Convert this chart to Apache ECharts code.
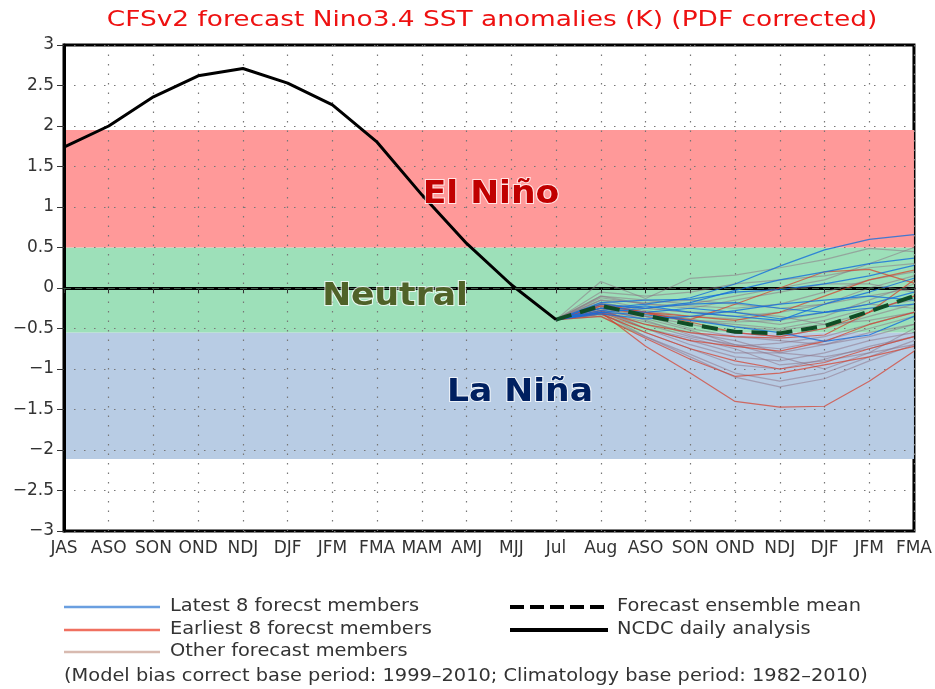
<!DOCTYPE html>
<html>
<head>
<meta charset="utf-8">
<script src="https://cdn.jsdelivr.net/npm/echarts@6/dist/echarts.min.js"></script>
<style>html,body{margin:0;padding:0;background:#fff}#c{width:935px;height:689px}</style>
</head>
<body>
<div id="c"></div>
<script>
const categories = ['JAS','ASO','SON','OND','NDJ','DJF','JFM','FMA','MAM','AMJ','MJJ','Jul','Aug','ASO','SON','OND','NDJ','DJF','JFM','FMA'];
const yTicks = {min: -3, max: 3, interval: 0.5};

// NCDC daily analysis (JAS .. Jul)
const ncdc = [1.74, 2.0, 2.36, 2.62, 2.71, 2.53, 2.26, 1.8, 1.15, 0.55, 0.04, -0.39];

// Forecast (Jul .. FMA)
const ensembleMean = [-0.39, -0.22, -0.34, -0.45, -0.54, -0.56, -0.47, -0.29, -0.1];

const latestMembers = [
  [-0.39, -0.25, -0.2, -0.12, 0.05, 0.27, 0.47, 0.6, 0.66],
  [-0.39, -0.3, -0.25, -0.18, -0.03, 0.1, 0.2, 0.3, 0.37],
  [-0.39, -0.18, -0.15, -0.14, -0.05, -0.02, 0.05, 0.15, 0.28],
  [-0.39, -0.3, -0.33, -0.4, -0.48, -0.55, -0.66, -0.58, -0.35],
  [-0.39, -0.25, -0.3, -0.25, -0.3, -0.38, -0.3, -0.2, -0.05],
  [-0.39, -0.28, -0.22, -0.3, -0.35, -0.4, -0.2, -0.05, 0.12],
  [-0.39, -0.32, -0.38, -0.35, -0.28, -0.2, -0.15, -0.1, -0.15],
  [-0.39, -0.2, -0.25, -0.2, -0.18, -0.25, -0.3, -0.25, -0.2]
];
const earliestMembers = [
  [-0.39, -0.3, -0.72, -1.05, -1.4, -1.47, -1.46, -1.15, -0.78],
  [-0.39, -0.35, -0.62, -0.88, -1.09, -1.05, -0.95, -0.85, -0.72],
  [-0.39, -0.3, -0.5, -0.65, -0.72, -0.78, -0.66, -0.45, -0.3],
  [-0.39, -0.25, -0.32, -0.39, -0.2, 0.0, 0.2, 0.23, 0.06],
  [-0.39, -0.2, -0.3, -0.35, -0.4, -0.3, -0.1, 0.1, 0.22],
  [-0.39, -0.28, -0.45, -0.55, -0.6, -0.62, -0.58, -0.3, 0.1],
  [-0.39, -0.32, -0.55, -0.75, -0.9, -1.0, -0.92, -0.75, -0.6],
  [-0.39, -0.22, -0.3, -0.42, -0.55, -0.6, -0.5, -0.3, -0.1]
];
const otherMembers = [
  [-0.39, 0.08, -0.13, 0.12, 0.16, 0.25, 0.35, 0.49, 0.45],
  [-0.39, -0.05, -0.1, -0.05, 0.05, 0.1, 0.15, 0.25, 0.3],
  [-0.39, -0.1, -0.15, -0.2, -0.1, 0.0, 0.1, 0.3, 0.5],
  [-0.39, -0.15, -0.25, -0.3, -0.35, -0.3, -0.2, 0.0, 0.15],
  [-0.39, -0.2, -0.3, -0.4, -0.45, -0.5, -0.4, -0.25, -0.15],
  [-0.39, -0.25, -0.35, -0.45, -0.55, -0.6, -0.5, -0.35, -0.2],
  [-0.39, -0.3, -0.45, -0.6, -0.7, -0.75, -0.65, -0.5, -0.35],
  [-0.39, -0.28, -0.5, -0.7, -0.85, -0.9, -0.8, -0.65, -0.55],
  [-0.39, -0.32, -0.55, -0.75, -0.95, -1.0, -0.88, -0.72, -0.6],
  [-0.39, -0.35, -0.6, -0.82, -1.05, -1.15, -1.05, -0.85, -0.65],
  [-0.39, -0.3, -0.6, -0.85, -1.1, -1.22, -1.12, -0.9, -0.7],
  [-0.39, -0.25, -0.5, -0.65, -0.8, -0.8, -0.7, -0.55, -0.45],
  [-0.39, -0.22, -0.35, -0.5, -0.6, -0.65, -0.7, -0.6, -0.45],
  [-0.39, -0.18, -0.28, -0.35, -0.38, -0.45, -0.35, -0.15, 0.05],
  [-0.39, -0.12, -0.2, -0.22, -0.25, -0.2, -0.05, 0.1, 0.2],
  [-0.39, -0.2, -0.25, -0.3, -0.3, -0.35, -0.45, -0.4, -0.3],
  [-0.39, -0.3, -0.42, -0.55, -0.65, -0.8, -0.85, -0.75, -0.6],
  [-0.39, -0.33, -0.5, -0.62, -0.75, -0.95, -0.9, -0.8, -0.7],
  [-0.39, -0.15, -0.18, -0.15, -0.2, -0.25, -0.2, -0.1, 0.0],
  [-0.39, -0.22, -0.3, -0.38, -0.48, -0.52, -0.45, -0.3, -0.1],
  [-0.39, -0.27, -0.38, -0.52, -0.7, -0.85, -1.0, -0.8, -0.5],
  [-0.39, -0.1, -0.2, -0.25, -0.15, -0.05, 0.05, 0.05, -0.05],
  [-0.39, -0.3, -0.35, -0.4, -0.42, -0.4, -0.3, -0.2, -0.25],
  [-0.39, -0.24, -0.4, -0.58, -0.72, -0.68, -0.6, -0.45, -0.3]
];

// ENSO category bands [low, high]
const bandNames = ['La Niña', 'Neutral', 'El Niño'];
const bandLow = [-2.11, -0.55, 0.5];
const bandHigh = [-0.55, 0.5, 1.95];
const bandColors = ['#b8cce4', '#9de0b9', '#ff9999'];

const forecastStart = 11;
function pad(arr) { return new Array(forecastStart).fill(null).concat(arr); }

const FONT = 'DejaVu Sans';
const series = [];

series.push({
  type: 'custom', name: 'bands', z: 1, silent: true,
  data: bandLow.map((lo, i) => ({value: [0, lo, bandHigh[i]]})),
  encode: {x: 0, y: [1, 2]},
  renderItem: function (params, api) {
    const cs = params.coordSys;
    const top = api.coord([0, api.value(2)])[1];
    const bot = api.coord([0, api.value(1)])[1];
    return {type: 'rect', shape: {x: cs.x, y: top, width: cs.width, height: bot - top},
      style: {fill: bandColors[params.dataIndex]}};
  }
});

otherMembers.forEach(m => series.push({type: 'line', z: 2, data: pad(m), symbol: 'none', silent: true,
  lineStyle: {color: 'rgba(140,110,130,0.5)', width: 1.2}}));
earliestMembers.forEach(m => series.push({type: 'line', z: 2, data: pad(m), symbol: 'none', silent: true,
  lineStyle: {color: 'rgba(215,60,40,0.7)', width: 1.2}}));
latestMembers.forEach(m => series.push({type: 'line', z: 2, data: pad(m), symbol: 'none', silent: true,
  lineStyle: {color: 'rgba(20,110,220,0.8)', width: 1.2}}));

series.push({type: 'line', z: 3, data: pad(ensembleMean), symbol: 'none', silent: true,
  lineStyle: {color: '#0f4d26', width: 4, type: [16, 9]},
  markLine: {silent: true, symbol: 'none', label: {show: false},
    lineStyle: {color: '#3a5a44', width: 1.2, type: [7, 4]},
    data: [{yAxis: 0}]}});
series.push({type: 'line', z: 4, data: ncdc, symbol: 'none', silent: true,
  lineStyle: {color: '#000', width: 3}});

const legendY = [607, 630, 652];
const LF = '17px "' + FONT + '"';
const LS = 1.14;
function legText(x, y, t) {
  return {type: 'text', x: x, y: y, scaleX: LS, style: {text: t, font: LF, fill: '#333', verticalAlign: 'middle'}};
}
function regionText(x, y, t, c) {
  return {type: 'text', x: x, y: y, z: 10, scaleX: 1.08, style: {text: t, font: 'bold 32px "DejaVu Sans"', fill: c,
    stroke: 'rgba(255,255,255,0.75)', lineWidth: 2, align: 'center', verticalAlign: 'middle'}};
}
const graphic = [
  {type: 'text', x: 492, y: 20, z: 10, scaleX: 1.2, style: {text: 'CFSv2 forecast Nino3.4 SST anomalies (K) (PDF corrected)',
    font: '22px "' + FONT + '"', fill: '#ee1111', align: 'center', verticalAlign: 'middle'}},
  regionText(491, 195, 'El Niño', '#c00000'),
  regionText(395, 297, 'Neutral', '#4f6228'),
  regionText(520, 393, 'La Niña', '#002060'),
  {type: 'line', shape: {x1: 64, y1: legendY[0], x2: 160, y2: legendY[0]}, style: {stroke: '#6a9fe0', lineWidth: 2.5}},
  legText(170, legendY[0], 'Latest 8 forecst members'),
  {type: 'line', shape: {x1: 64, y1: legendY[1], x2: 160, y2: legendY[1]}, style: {stroke: '#f07060', lineWidth: 2.5}},
  legText(170, legendY[1], 'Earliest 8 forecst members'),
  {type: 'line', shape: {x1: 64, y1: legendY[2], x2: 160, y2: legendY[2]}, style: {stroke: '#d8bab0', lineWidth: 2.5}},
  legText(170, legendY[2], 'Other forecast members'),
  {type: 'line', shape: {x1: 510, y1: legendY[0], x2: 608, y2: legendY[0]}, style: {stroke: '#000', lineWidth: 4, lineDash: [14, 6]}},
  legText(617, legendY[0], 'Forecast ensemble mean'),
  {type: 'line', shape: {x1: 510, y1: legendY[1], x2: 608, y2: legendY[1]}, style: {stroke: '#000', lineWidth: 4}},
  legText(617, legendY[1], 'NCDC daily analysis'),
  legText(64, 677, '(Model bias correct base period: 1999\u20132010; Climatology base period: 1982\u20132010)')
];

const chart = echarts.init(document.getElementById('c'), null, {renderer: 'canvas'});
chart.setOption({
  animation: false,
  backgroundColor: '#fff',
  grid: {left: 64, right: 19, top: 45, bottom: 158, show: true, borderColor: '#000', borderWidth: 3, backgroundColor: '#fff'},
  xAxis: {
    type: 'category', data: categories, boundaryGap: false, z: 1.5,
    axisLine: {show: true, lineStyle: {color: '#000', width: 3}},
    axisTick: {show: true, alignWithLabel: true, length: 5, lineStyle: {color: '#333', width: 1}},
    axisLabel: {color: '#333', fontFamily: FONT, fontSize: 17, margin: 9, interval: 0},
    splitLine: {show: true, lineStyle: {color: '#777', width: 1.2, type: [1.5, 8]}}
  },
  yAxis: {
    type: 'value', min: yTicks.min, max: yTicks.max, interval: yTicks.interval, z: 1.5,
    axisLine: {show: true, lineStyle: {color: '#000', width: 3}},
    axisTick: {show: true, length: 7, lineStyle: {color: '#333', width: 1}},
    axisLabel: {color: '#333', fontFamily: FONT, fontSize: 17, margin: 10,
      formatter: v => (v < 0 ? '\u2212' + Math.abs(v) : String(v))},
    splitLine: {show: true, lineStyle: {color: '#777', width: 1.2, type: [1.5, 8.5]}}
  },
  series: series,
  graphic: graphic
});
</script>
</body>
</html>
